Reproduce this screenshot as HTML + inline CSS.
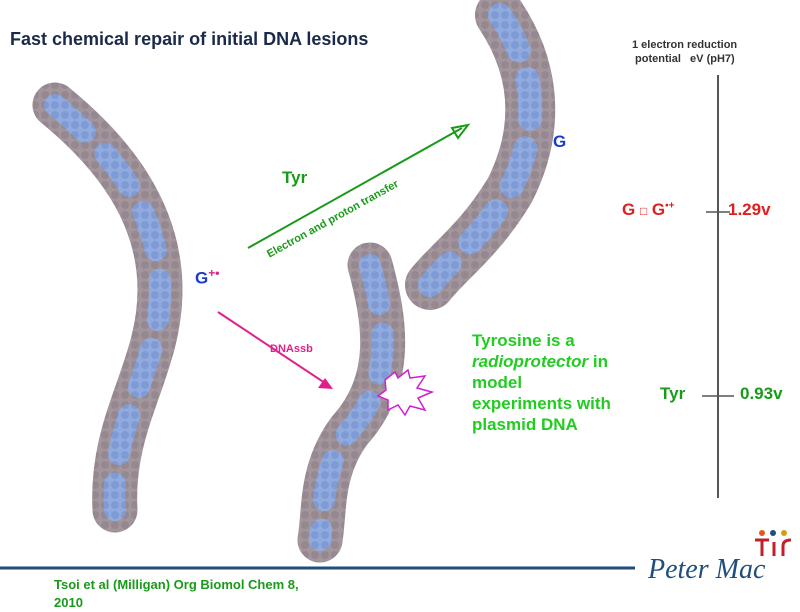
<!DOCTYPE html>
<html><head><style>
body{margin:0;width:800px;height:600px;background:#fff;overflow:hidden;position:relative;font-family:"Liberation Sans",sans-serif;font-weight:bold}
.t{position:absolute;white-space:nowrap}
</style></head><body>
<svg width="800" height="600" style="position:absolute;left:0;top:0">
<defs><pattern id="p" width="10" height="10" patternUnits="userSpaceOnUse"><rect width="10" height="10" fill="#a2959b"/><circle cx="5" cy="5" r="4" fill="#968890"/></pattern>
<pattern id="b" width="10" height="10" patternUnits="userSpaceOnUse"><rect width="10" height="10" fill="#92abdf"/><circle cx="5" cy="5" r="4" fill="#7f9bd6"/></pattern></defs>
<g fill="none" stroke-linecap="round">
<path d="M55,105 C110,150 160,210 160,290 C160,370 110,420 115,510" stroke="url(#p)" stroke-width="45"/>
<path d="M55,105 C110,150 160,210 160,290 C160,370 110,420 115,510" stroke="url(#b)" stroke-width="22" stroke-dasharray="40 30"/>
<path d="M500,15 C530,60 545,120 510,190 C480,240 450,260 430,285" stroke="url(#p)" stroke-width="50"/>
<path d="M500,15 C530,60 545,120 510,190 C480,240 450,260 430,285" stroke="url(#b)" stroke-width="24" stroke-dasharray="40 30"/>
<path d="M370,265 C385,320 395,380 350,430 C320,470 325,510 320,540" stroke="url(#p)" stroke-width="45"/>
<path d="M370,265 C385,320 395,380 350,430 C320,470 325,510 320,540" stroke="url(#b)" stroke-width="22" stroke-dasharray="40 30"/>
</g>
<polygon points="385,380 395,372 398,378 408,370 410,378 425,376 417,388 432,392 418,398 425,410 410,406 405,415 398,405 388,410 388,400 378,396 386,390" fill="#fff" stroke="#d020d0" stroke-width="1.5"/>
<line x1="248" y1="248" x2="462" y2="128" stroke="#1a9a1a" stroke-width="2"/>
<polygon points="468,125 452,128 458,138" fill="none" stroke="#1a9a1a" stroke-width="2"/>
<line x1="218" y1="312" x2="328" y2="385" stroke="#e0208a" stroke-width="2"/>
<polygon points="333,389 318,388 325,378" fill="#e0208a"/>
<line x1="718" y1="75" x2="718" y2="498" stroke="#555" stroke-width="2"/>
<line x1="706" y1="212" x2="730" y2="212" stroke="#555" stroke-width="1.5"/>
<line x1="702" y1="396" x2="734" y2="396" stroke="#555" stroke-width="1.5"/>
<line x1="0" y1="568" x2="635" y2="568" stroke="#1f4e79" stroke-width="3"/>
<text x="648" y="578" font-family="Liberation Serif" font-style="italic" font-weight="normal" font-size="28" fill="#1f4e79">Peter Mac</text>
<circle cx="762" cy="533" r="3" fill="#e05a1a"/><circle cx="773" cy="533" r="3" fill="#1f4e79"/><circle cx="784" cy="533" r="3" fill="#d4a010"/>
<path d="M755,540 h14 M762,540 v16 M774,542 v14 M783,556 v-10 q0,-6 8,-6" stroke="#c0202a" stroke-width="3" fill="none"/>
</svg>
<div class="t" style="left:10px;top:29px;font-size:18px;color:#1a2a4a">Fast chemical repair of initial DNA lesions</div>
<div class="t" style="left:632px;top:38px;font-size:11px;color:#333;line-height:14px">1 electron reduction<br>&nbsp;potential &nbsp;&nbsp;eV (pH7)</div>
<div class="t" style="left:553px;top:132px;font-size:17px;color:#1a3ad0">G</div>
<div class="t" style="left:282px;top:168px;font-size:17px;color:#1a9a1a">Tyr</div>
<div class="t" style="left:265px;top:250px;font-size:11px;color:#1a9a1a;transform:rotate(-29deg);transform-origin:0 0">Electron and proton transfer</div>
<div class="t" style="left:195px;top:266px;font-size:17px;color:#1a3ad0">G<sup style="color:#e0208a;font-size:12px">+•</sup></div>
<div class="t" style="left:270px;top:343px;font-size:11px;color:#e0208a">DNAssb</div>
<div class="t" style="left:622px;top:200px;font-size:17px;color:#e02020">G <span style="font-weight:normal;font-size:12px">□</span> G<sup style="font-size:10px">•+</sup></div>
<div class="t" style="left:728px;top:200px;font-size:17px;color:#e02020">1.29v</div>
<div class="t" style="left:660px;top:384px;font-size:17px;color:#1a9a1a">Tyr</div>
<div class="t" style="left:740px;top:384px;font-size:17px;color:#1a9a1a">0.93v</div>
<div class="t" style="left:472px;top:330px;font-size:17px;color:#22cc22;line-height:21px">Tyrosine is a<br><i>radioprotector</i> in<br>model<br>experiments with<br>plasmid DNA</div>
<div class="t" style="left:54px;top:576px;font-size:13px;color:#1a9a1a;line-height:18px">Tsoi et al (Milligan) Org Biomol Chem 8,<br>2010</div>
</body></html>
